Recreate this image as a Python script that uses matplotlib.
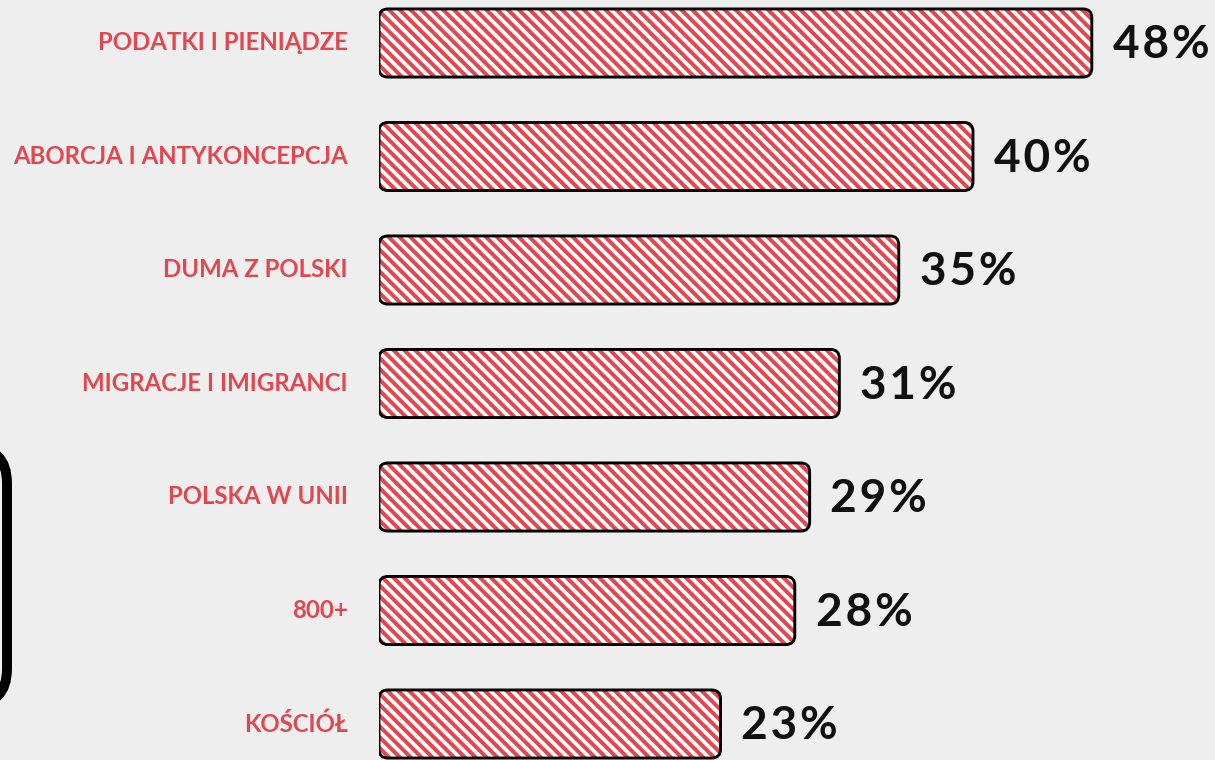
import matplotlib
matplotlib.use("Agg")
import matplotlib.pyplot as plt
from matplotlib.patches import FancyBboxPatch

categories = ["PODATKI I PIENIĄDZE", "ABORCJA I ANTYKONCEPCJA", "DUMA Z POLSKI",
              "MIGRACJE I IMIGRANCI", "POLSKA W UNII", "800+", "KOŚCIÓŁ"]
values = [48, 40, 35, 31, 29, 28, 23]
value_labels = ["48%", "40%", "35%", "31%", "29%", "28%", "23%"]

DPI = 130
W, H = 1215, 760
BG = "#eeeeee"
RED = "#e2474f"

plt.rcParams['hatch.linewidth'] = 2.2
plt.rcParams['font.family'] = ['Lato', 'DejaVu Sans']

fig = plt.figure(figsize=(W / DPI, H / DPI), dpi=DPI, facecolor=BG)
ax = fig.add_axes([379 / W, 0, 1 - 379 / W, 1])
ax.set_facecolor(BG)
ax.set_xlim(0, (W - 379) / 14.85)
ax.set_ylim((H - 43) / 113.5, -43 / 113.5)
ax.axis('off')

ypos = list(range(len(categories)))
bars = ax.barh(ypos, values, height=0.6, color='none', edgecolor='none')

px_x = 14.85
px_y = 113.5
r_px = 9
HAIR = "\u200a"
for bar, lab in zip(bars, value_labels):
    x0, y0 = bar.get_x(), bar.get_y()
    w, h = bar.get_width(), bar.get_height()
    common = dict(boxstyle=f"round,pad=0,rounding_size={r_px / px_x}",
                  mutation_aspect=px_x / px_y)
    fill = FancyBboxPatch((x0, y0), w, h, facecolor='white', edgecolor=RED,
                          hatch='\\\\\\\\', linewidth=0, zorder=2, **common)
    ax.add_patch(fill)
    edge = FancyBboxPatch((x0, y0), w, h, facecolor='none', edgecolor='black',
                          linewidth=1.6, zorder=3, **common)
    ax.add_patch(edge)
    ax.text(x0 + w + 1.4, y0 + h / 2 + 0.02, HAIR.join(lab), ha='left', va='center',
            fontsize=25.5, fontweight='bold', color='#111111')

for y, cat in zip(ypos, categories):
    ax.text(-31 / px_x, y, cat, ha='right', va='center', fontsize=13.3,
            fontweight='bold', color=RED)

# left decorative rounded bracket (partially off-canvas)
bracket = FancyBboxPatch((-200 / W, (H - 705) / H), 207 / W, (705 - 447) / H,
                         boxstyle="round,pad=0,rounding_size=0.03",
                         transform=fig.transFigure, facecolor='none',
                         edgecolor='black', linewidth=5.5, clip_on=False,
                         mutation_aspect=W / H)
fig.patches.append(bracket)

fig.savefig("out.png", dpi=DPI, facecolor=BG)
